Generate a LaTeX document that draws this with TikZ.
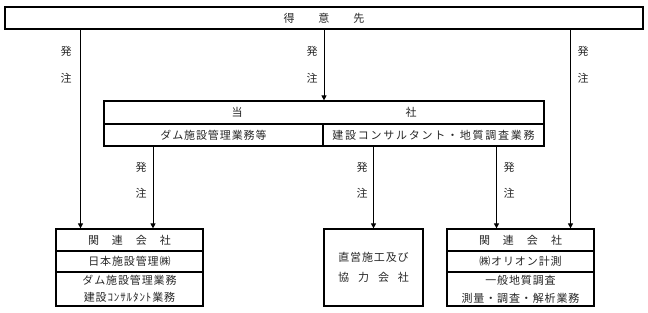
\documentclass[tikz,border=0pt]{standalone}
\usepackage{fontspec}
\newfontfamily\jp{Noto Sans CJK JP}[LetterSpace=8]
\newfontfamily\jpwide{Noto Sans CJK JP}[LetterSpace=16]
\usetikzlibrary{arrows.meta}
\begin{document}
\begin{tikzpicture}[x=1pt,y=-1pt,
  every node/.style={font=\jp\fontsize{11}{11}\selectfont, text=black!85, inner sep=0pt},
  box/.style={draw=black, line width=1.2pt},
  arr/.style={draw=black, line width=0.9pt, -{Triangle[width=5pt,length=5pt]}},
  lbl/.style={}]
\useasboundingbox (0,0) rectangle (648,313);
% top
\node[box, line width=1.6pt, minimum width=638pt, minimum height=22pt] (client) at (324,18) {得\hspace{24pt}意\hspace{24pt}先};
% company
\node[box, minimum width=440pt, minimum height=23pt] (tosha) at (324,112.5) {当\hspace{163pt}社};
\node[box, minimum width=219pt, minimum height=22pt] (dam) at (213.5,135) {ダム施設管理業務等};
\node[box, minimum width=221pt, minimum height=22pt, font=\jpwide\fontsize{11}{11}\selectfont] (cons) at (433.5,135) {建設コンサルタント・地質調査業務};
% bottom left
\node[box, minimum width=147pt, minimum height=22pt] (relA) at (129.5,240) {関\hspace{13pt}連\hspace{13pt}会\hspace{13pt}社};
\node[box, minimum width=147pt, minimum height=21pt] (relAn) at (129.5,261.5) {日本施設管理㈱};
\node[box, minimum width=147pt, minimum height=34pt, align=center, font=\jp\fontsize{11}{17}\selectfont] (relAw) at (129.5,289) {ダム施設管理業務\\建設ｺﾝｻﾙﾀﾝﾄ業務};
% bottom middle
\node[box, minimum width=99pt, minimum height=77pt, align=center, font=\jp\fontsize{11}{20}\selectfont] (direct) at (373.5,267.5) {直営施工及び\\協\hspace{9pt}力\hspace{9pt}会\hspace{9pt}社};
% bottom right
\node[box, minimum width=147pt, minimum height=22pt] (relB) at (520.5,240) {関\hspace{13pt}連\hspace{13pt}会\hspace{13pt}社};
\node[box, minimum width=147pt, minimum height=21pt] (relBn) at (520.5,261.5) {㈱オリオン計測};
\node[box, minimum width=147pt, minimum height=34pt, align=center, font=\jp\fontsize{11}{18}\selectfont] (relBw) at (520.5,289) {一般地質調査\\測量・調査・解析業務};
% x positions
\coordinate (xa) at (80.5,0);
\coordinate (xb) at (324,0);
\coordinate (xc) at (570.5,0);
\coordinate (xd) at (153,0);
\coordinate (xe) at (373.5,0);
\coordinate (xf) at (496.5,0);
% arrows
\draw[arr] (client.south -| xa) -- (relA.north -| xa);
\draw[arr] (client.south -| xb) -- (tosha.north -| xb);
\draw[arr] (client.south -| xc) -- (relB.north -| xc);
\draw[arr] (dam.south -| xd) -- (relA.north -| xd);
\draw[arr] (cons.south -| xe) -- (direct.north -| xe);
\draw[arr] (cons.south -| xf) -- (relB.north -| xf);
% labels
\node (h1) at (66,51) {発};  \node (c1) at (66,78) {注};
\node (h2) at (312,51) {発}; \node (c2) at (312,78) {注};
\node (h3) at (583,51) {発}; \node (c3) at (583,78) {注};
\node (h4) at (141,167) {発}; \node (c4) at (141,193) {注};
\node (h5) at (362,167) {発}; \node (c5) at (362,193) {注};
\node (h6) at (509,167) {発}; \node (c6) at (509,193) {注};
\end{tikzpicture}
\end{document}
